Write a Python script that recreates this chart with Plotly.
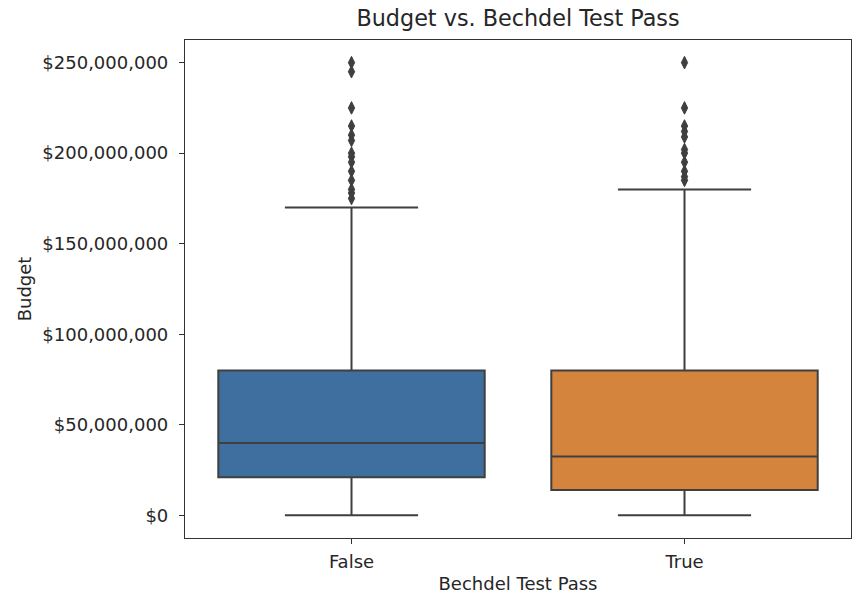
import plotly.graph_objects as go

categories = ["False", "True"]
q1 = [21e6, 14e6]
median = [40e6, 32.5e6]
q3 = [80e6, 80e6]
lower_fence = [0, 0]
upper_fence = [170e6, 180e6]
outliers_false = [250e6, 245e6, 225e6, 215e6, 210e6, 207e6, 200e6, 198e6, 195e6,
                  190e6, 185e6, 180e6, 178e6, 175e6]
outliers_true = [250e6, 225e6, 215e6, 212e6, 209e6, 202e6, 200e6, 195e6, 190e6,
                 187e6, 185e6]
box_colors = ["#3e6f9e", "#d5843e"]
yticks = [0, 50e6, 100e6, 150e6, 200e6, 250e6]
ytick_labels = ["$0", "$50,000,000", "$100,000,000", "$150,000,000",
                "$200,000,000", "$250,000,000"]

line_col = "#3f3f3f"
fig = go.Figure()
for i, cat in enumerate(categories):
    fig.add_trace(go.Box(
        x=[cat], q1=[q1[i]], median=[median[i]], q3=[q3[i]],
        lowerfence=[lower_fence[i]], upperfence=[upper_fence[i]],
        fillcolor=box_colors[i], line=dict(color=line_col, width=2),
        width=0.8, whiskerwidth=0.5, boxpoints=False, showlegend=False,
        hoverinfo="skip"))

for cat, vals in zip(categories, [outliers_false, outliers_true]):
    fig.add_trace(go.Scatter(
        x=[cat] * len(vals), y=vals, mode="markers",
        marker=dict(symbol="diamond-tall", size=9, color=line_col,
                    line=dict(width=1, color=line_col)),
        showlegend=False, hoverinfo="skip"))

font_family = "DejaVu Sans"
fig.update_layout(
    width=855, height=594,
    margin=dict(l=185, r=4, t=40, b=56),
    paper_bgcolor="white", plot_bgcolor="white",
    boxmode="overlay",
    font=dict(family=font_family, color="#262626", size=18),
    title=dict(text="Budget vs. Bechdel Test Pass", x=0.5, xref="paper",
               xanchor="center", y=1 - 18 / 594, yref="container",
               yanchor="middle", font=dict(size=22.3, color="#262626")),
)
fig.update_xaxes(
    type="category", range=[-0.5, 1.5], categoryorder="array",
    categoryarray=categories,
    showline=True, mirror=True, linecolor="#333333", linewidth=1.2,
    ticks="outside", ticklen=5, tickcolor="#333333", tickwidth=1.2,
    ticklabelstandoff=2,
    showgrid=False, zeroline=False,
    title=dict(text="Bechdel Test Pass", standoff=6, font=dict(size=18)),
)
fig.update_yaxes(
    range=[-12.5e6, 262.5e6], tickvals=yticks, ticktext=ytick_labels,
    showline=True, mirror=True, linecolor="#333333", linewidth=1.2,
    ticks="outside", ticklen=5, tickcolor="#333333", tickwidth=1.2,
    ticklabelstandoff=7,
    showgrid=False, zeroline=False,
    title=dict(text="Budget", standoff=6, font=dict(size=18)),
)
fig.write_html("out.html")
